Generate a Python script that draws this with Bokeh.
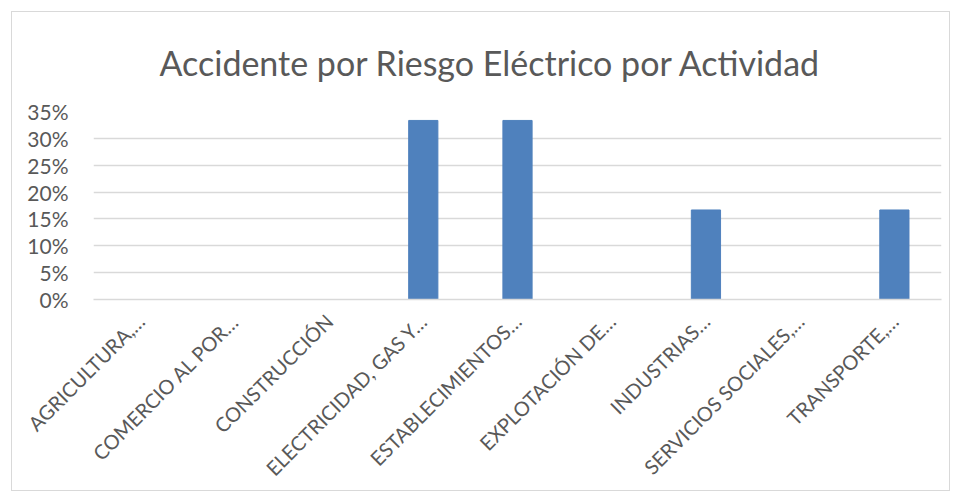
import math
from bokeh.plotting import figure
from bokeh.models import FactorRange, Range1d, NumeralTickFormatter, FixedTicker
from bokeh.embed import file_html
from bokeh.resources import INLINE

title_text = "Accidente por Riesgo Eléctrico por Actividad"
categories = ["AGRICULTURA,…", "COMERCIO AL POR…", "CONSTRUCCIÓN", "ELECTRICIDAD, GAS Y…",
              "ESTABLECIMIENTOS…", "EXPLOTACIÓN DE…", "INDUSTRIAS…", "SERVICIOS SOCIALES,…",
              "TRANSPORTE,…"]
values = [0.0, 0.0, 0.0, 1/3, 1/3, 0.0, 1/6, 0.0, 1/6]
y_ticks = [0, 0.05, 0.10, 0.15, 0.20, 0.25, 0.30, 0.35]

FONT = "Lato"
GRAY = "#595959"

p = figure(x_range=FactorRange(*categories), y_range=Range1d(0, 0.35),
           width=939, height=480, output_backend="svg", toolbar_location=None,
           title=title_text,
           min_border_left=81, min_border_right=10, min_border_top=99, min_border_bottom=193)
p.styles = {"margin-left": "11px", "margin-top": "11px", "border": "1px solid #d9d9d9",
            "box-sizing": "border-box"}

p.vbar(x=categories, top=values, width=0.31, color="#4f81bd", line_color="#4f81bd")

p.title.text_font = FONT
p.title.text_font_size = "34px"
p.title.text_font_style = "normal"
p.title.text_color = GRAY
p.title.align = "left"
p.title.offset = 66
p.title.vertical_align = "top"
p.title.standoff = 54

p.outline_line_color = None
p.xgrid.grid_line_color = None
p.ygrid.grid_line_color = "#d9d9d9"
p.ygrid.grid_line_width = 1.3
p.ygrid.ticker = FixedTicker(ticks=y_ticks)

p.yaxis.ticker = FixedTicker(ticks=y_ticks)
p.yaxis.formatter = NumeralTickFormatter(format="0%")
p.yaxis.axis_line_color = None
p.yaxis.major_tick_line_color = None
p.yaxis.minor_tick_line_color = None
p.yaxis.major_label_text_font = FONT
p.yaxis.major_label_text_font_size = "21px"
p.yaxis.major_label_text_color = GRAY
p.yaxis.major_label_standoff = 19

p.xaxis.axis_line_color = "#d9d9d9"
p.xaxis.axis_line_width = 1.3
p.xaxis.major_tick_line_color = None
p.xaxis.minor_tick_line_color = None
p.xaxis.major_label_orientation = math.pi / 4
p.xaxis.major_label_text_font = FONT
p.xaxis.major_label_text_font_size = "20px"
p.xaxis.major_label_text_color = GRAY
p.xaxis.major_label_standoff = 12

p.background_fill_color = "white"
p.border_fill_color = "white"

open("out.html", "w").write(file_html(p, INLINE))
